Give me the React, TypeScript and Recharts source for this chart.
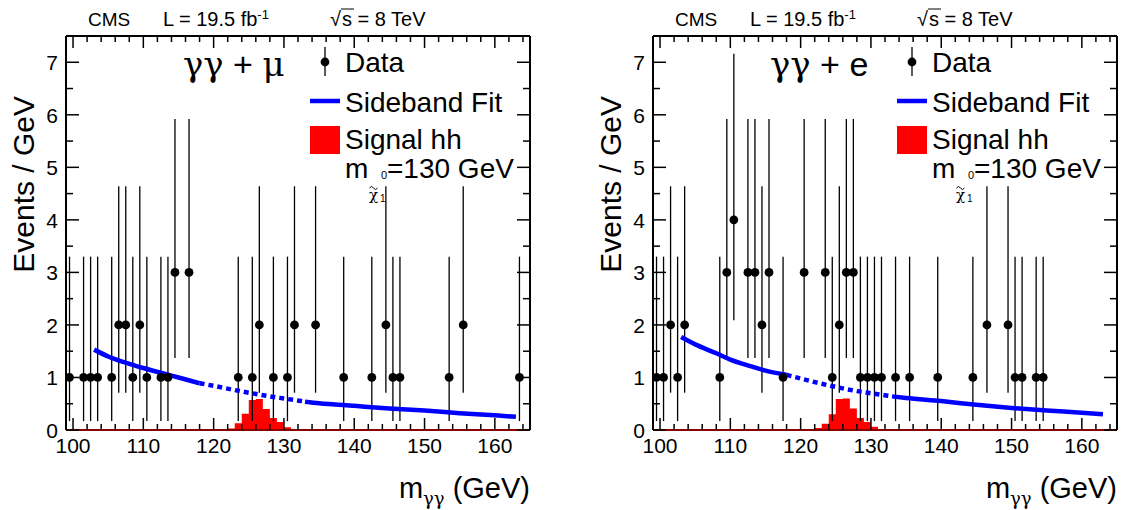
import React from 'react';
import { ComposedChart, Scatter, ErrorBar, Line, Area, XAxis, YAxis } from 'recharts';

const FONT = '"Liberation Sans", Arial, Helvetica, sans-serif';
const GREEK = '"DejaVu Serif", "Liberation Serif", serif';

// gamma gamma + mu : bin centres (GeV) and event counts
const muMass = [99.5, 101.5, 102.5, 103.5, 105.5, 106.5, 107.5, 108.5, 109.5, 110.5, 112.5, 113.5, 114.5, 116.5,
  123.5, 125.5, 126.5, 128.5, 130.5, 131.5, 134.5, 138.5, 142.5, 144.5, 145.5, 146.5, 153.5, 155.5, 163.5];
const muCount = [1, 1, 1, 1, 1, 2, 2, 1, 2, 1, 1, 1, 3, 3,
  1, 1, 2, 1, 1, 2, 2, 1, 1, 2, 1, 1, 1, 2, 1];

// gamma gamma + e
const eMass = [99.5, 100.5, 101.5, 102.5, 103.5, 108.5, 109.5, 110.5, 112.5, 113.5, 114.5, 115.5, 117.5, 120.5,
  123.5, 124.5, 125.5, 126.5, 127.5, 128.5, 129.5, 130.5, 131.5, 133.5, 135.5, 139.5, 144.5, 146.5, 149.5,
  150.5, 151.5, 153.5, 154.5];
const eCount = [1, 1, 2, 1, 2, 1, 3, 4, 3, 3, 2, 3, 1, 3,
  3, 1, 2, 3, 3, 1, 1, 1, 1, 1, 1, 1, 1, 2, 2,
  1, 1, 1, 1];

// 68% Poisson intervals for n = 0..4
const poissonLow = [0, 0.17, 0.71, 1.37, 2.09];
const poissonHigh = [1.84, 3.3, 4.64, 5.92, 7.16];

// sideband fit, sampled off the curve
const fitMass = [103, 105, 108, 110, 113, 115, 118, 120, 123, 125, 128, 130, 133, 135, 140, 145, 150, 155, 160, 163];
const muFit = [1.53, 1.4, 1.26, 1.18, 1.07, 1.0, 0.89, 0.84, 0.76, 0.71, 0.64, 0.6, 0.54, 0.51, 0.46, 0.41, 0.37, 0.32, 0.28, 0.25];
const eFit = [1.77, 1.63, 1.46, 1.34, 1.21, 1.13, 1.05, 0.98, 0.88, 0.82, 0.74, 0.7, 0.64, 0.61, 0.55, 0.48, 0.42, 0.37, 0.33, 0.3];
const blindLow = 118;
const blindHigh = 133;

// signal hh histogram, 1 GeV bins, lower edges
const sigEdges = [120, 121, 122, 123, 124, 125, 126, 127, 128, 129, 130, 131, 132];
const muSignal = [0.005, 0.01, 0.03, 0.13, 0.31, 0.57, 0.59, 0.4, 0.23, 0.15, 0.05, 0.01, 0];
const eSignal = [0.01, 0.02, 0.04, 0.12, 0.3, 0.59, 0.6, 0.41, 0.23, 0.15, 0.06, 0.02, 0];

const xTicks = [100, 102, 104, 106, 108, 110, 112, 114, 116, 118, 120, 122, 124, 126, 128, 130, 132, 134, 136, 138,
  140, 142, 144, 146, 148, 150, 152, 154, 156, 158, 160, 162, 164];
const yTicks = [0, 0.5, 1, 1.5, 2, 2.5, 3, 3.5, 4, 4.5, 5, 5.5, 6, 6.5, 7];

const W = 562;
const H = 510;
// plot area: x 66..530, y 36..430 (axes take 1px each)
const M = { top: 35, right: 31, bottom: 79, left: 65 };

const XTickBottom = (props: any) => {
  const { x, y, payload } = props;
  const major = payload.value % 10 === 0;
  return (
    <g>
      <line x1={x} x2={x} y1={y} y2={y - (major ? 12 : 6)} stroke="#000" strokeWidth={1.5} />
      {major && (
        <text x={x} y={y + 23} textAnchor="middle" fontSize={21} fontFamily={FONT} fill="#000">
          {payload.value}
        </text>
      )}
    </g>
  );
};

const XTickTop = (props: any) => {
  const { x, y, payload } = props;
  const major = payload.value % 10 === 0;
  return <line x1={x} x2={x} y1={y} y2={y + (major ? 12 : 6)} stroke="#000" strokeWidth={1.5} />;
};

const YTickLeft = (props: any) => {
  const { x, y, payload } = props;
  const major = payload.value % 1 === 0;
  return (
    <g>
      <line x1={x} x2={x + (major ? 13 : 7)} y1={y} y2={y} stroke="#000" strokeWidth={1.5} />
      {major && (
        <text x={x - 8} y={y + 8} textAnchor="end" fontSize={21} fontFamily={FONT} fill="#000">
          {payload.value}
        </text>
      )}
    </g>
  );
};

const YTickRight = (props: any) => {
  const { x, y, payload } = props;
  const major = payload.value % 1 === 0;
  return <line x1={x} x2={x - (major ? 13 : 7)} y1={y} y2={y} stroke="#000" strokeWidth={1.5} />;
};

const Dot = (p: any) => <circle cx={p.cx} cy={p.cy} r={4.4} fill="#000" />;

interface PanelProps {
  mass: number[];
  count: number[];
  fit: number[];
  signal: number[];
  lepton: string;
}

const Panel: React.FC<PanelProps> = ({ mass, count, fit, signal, lepton }) => {
  const points = mass.map((m, i) => {
    const n = count[i];
    return { x: m, y: n, err: [n - poissonLow[n], poissonHigh[n] - n] };
  });
  const fitPts = fitMass.map((m, i) => ({ x: m, y: fit[i] }));
  const fitLeft = fitPts.filter(p => p.x <= blindLow);
  const fitBlind = fitPts.filter(p => p.x >= blindLow && p.x <= blindHigh);
  const fitRight = fitPts.filter(p => p.x >= blindHigh);
  const sigData = sigEdges.map((e, i) => ({ x: e, sig: signal[i] }));

  return (
    <div style={{ position: 'relative', width: W, height: H }}>
      <ComposedChart width={W} height={H} data={sigData} margin={M}>
        <XAxis xAxisId="b" dataKey="x" type="number" domain={[99, 165]} allowDataOverflow ticks={xTicks}
          height={1} tickSize={0} tickMargin={0} interval={0} tick={<XTickBottom />}
          axisLine={{ stroke: '#8b0000', strokeWidth: 2 }} tickLine={false} />
        <XAxis xAxisId="t" orientation="top" dataKey="x" type="number" domain={[99, 165]} allowDataOverflow
          ticks={xTicks} height={1} tickSize={0} tickMargin={0} interval={0} tick={<XTickTop />}
          axisLine={{ stroke: '#000', strokeWidth: 2 }} tickLine={false} />
        <YAxis yAxisId="l" dataKey="y" type="number" domain={[0, 7.5]} allowDataOverflow ticks={yTicks}
          width={1} tickSize={0} tickMargin={0} interval={0} tick={<YTickLeft />}
          axisLine={{ stroke: '#000', strokeWidth: 2 }} tickLine={false} />
        <YAxis yAxisId="r" orientation="right" dataKey="y" type="number" domain={[0, 7.5]} allowDataOverflow
          ticks={yTicks} width={1} tickSize={0} tickMargin={0} interval={0} tick={<YTickRight />}
          axisLine={{ stroke: '#000', strokeWidth: 2 }} tickLine={false} />
        <Area xAxisId="b" yAxisId="l" dataKey="sig" type="stepAfter" fill="#ff0000" fillOpacity={1}
          stroke="none" isAnimationActive={false} />
        <Scatter xAxisId="b" yAxisId="l" data={points} dataKey="y" shape={<Dot />} isAnimationActive={false}>
          <ErrorBar dataKey="err" direction="y" width={0} stroke="#000" strokeWidth={1.3} />
        </Scatter>
        <Line xAxisId="b" yAxisId="l" data={fitLeft} dataKey="y" type="monotone" stroke="#0000ff" strokeWidth={4.5}
          dot={false} isAnimationActive={false} />
        <Line xAxisId="b" yAxisId="l" data={fitBlind} dataKey="y" type="monotone" stroke="#0000ff" strokeWidth={4.5}
          strokeDasharray="5 4" dot={false} isAnimationActive={false} />
        <Line xAxisId="b" yAxisId="l" data={fitRight} dataKey="y" type="monotone" stroke="#0000ff" strokeWidth={4.5}
          dot={false} isAnimationActive={false} />
      </ComposedChart>

      <svg width={W} height={H} style={{ position: 'absolute', left: 0, top: 0, pointerEvents: 'none' }}
        fontFamily={FONT} fill="#000">
        {/* header */}
        <text x={88} y={26} fontSize={19}>CMS</text>
        <text x={163} y={26} fontSize={20}>L = 19.5 fb<tspan dy={-7} fontSize={13}>-1</tspan></text>
        <text x={330} y={26} fontSize={20}>√</text>
        <line x1={341} x2={354} y1={9} y2={9} stroke="#000" strokeWidth={1} />
        <text x={342} y={26} fontSize={20}>s = 8 TeV</text>

        {/* channel */}
        <text x={183} y={76} fontSize={34}>
          <tspan fontFamily={GREEK}>γγ</tspan> + <tspan fontFamily={lepton === 'μ' ? GREEK : FONT}>{lepton}</tspan>
        </text>

        {/* legend */}
        <line x1={325} x2={325} y1={47} y2={76} stroke="#000" strokeWidth={1.3} />
        <circle cx={325} cy={62} r={4.4} fill="#000" />
        <text x={345} y={72} fontSize={28}>Data</text>
        <line x1={310} x2={340} y1={101} y2={101} stroke="#0000ff" strokeWidth={4.5} />
        <text x={345} y={112} fontSize={28}>Sideband Fit</text>
        <rect x={310} y={126} width={30} height={28} fill="#ff0000" />
        <text x={345} y={149} fontSize={28}>Signal hh</text>
        <text x={345} y={178} fontSize={28}>m</text>
        <text x={369} y={200} fontSize={15} fontFamily={GREEK}>χ</text>
        <path d="M369.5,188 q2,-3 4,0 t4,0" fill="none" stroke="#000" strokeWidth={1} />
        <text x={380} y={202} fontSize={10}>1</text>
        <text x={381} y={179} fontSize={11}>0</text>
        <text x={387} y={178} fontSize={28}>=130 GeV</text>

        {/* axis titles */}
        <text x={530} y={498} textAnchor="end" fontSize={29}>
          m<tspan dy={7} fontSize={18} fontFamily={GREEK}>γγ</tspan><tspan dy={-7}> (GeV)</tspan>
        </text>
        <text transform="translate(34,96) rotate(-90)" x={0} y={0} textAnchor="end" fontSize={30}>Events / GeV</text>
      </svg>
    </div>
  );
};

export default function App() {
  return (
    <div style={{ position: 'absolute', left: 0, top: 0, width: 1124, height: 510, overflow: 'hidden', background: '#fff' }}>
      <div style={{ position: 'absolute', left: 0, top: 0 }}>
        <Panel mass={muMass} count={muCount} fit={muFit} signal={muSignal} lepton="μ" />
      </div>
      <div style={{ position: 'absolute', left: 587, top: 0 }}>
        <Panel mass={eMass} count={eCount} fit={eFit} signal={eSignal} lepton="e" />
      </div>
    </div>
  );
}
